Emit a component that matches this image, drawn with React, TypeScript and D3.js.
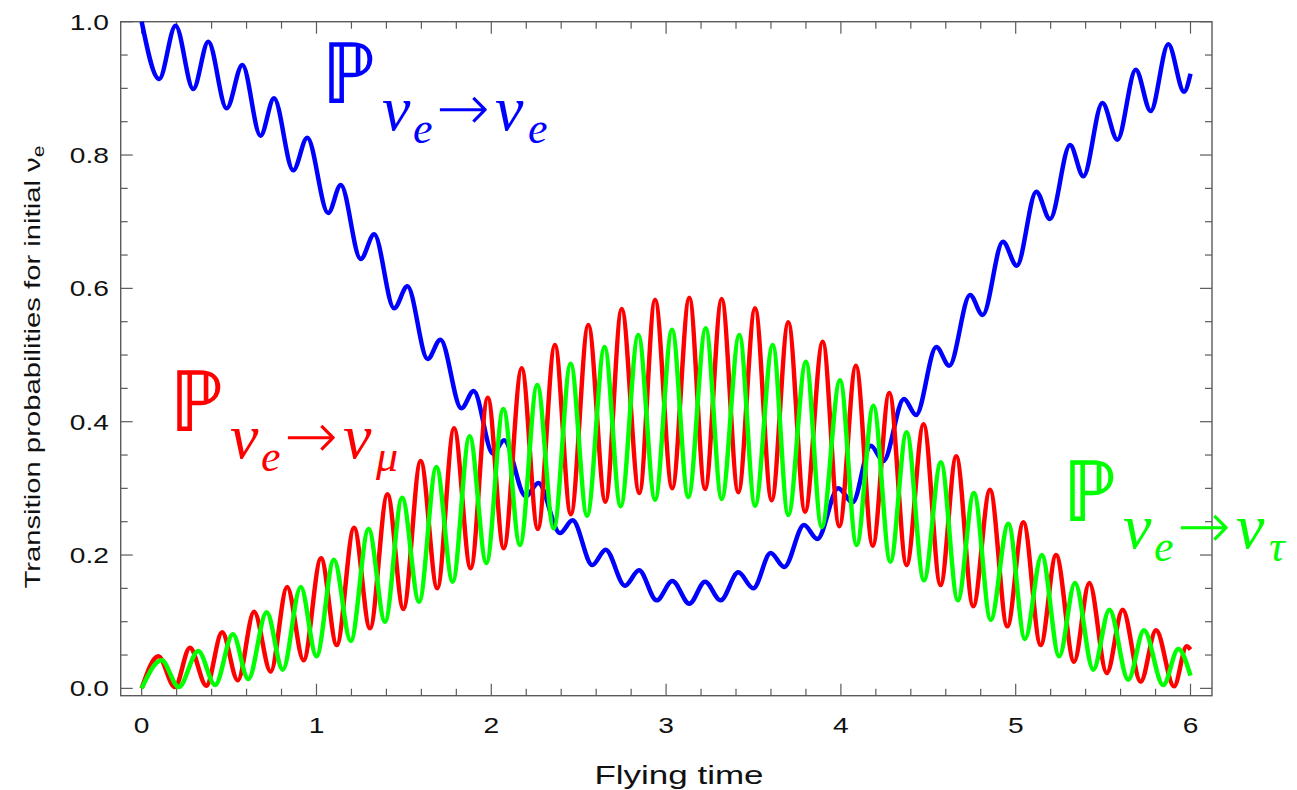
import React from "react";
import * as d3 from "d3";

// Data: local extrema (t, probability)
const pEE: [number, number][] = [
  [0, 1.0], [0.1, 0.914], [0.194, 0.994], [0.295, 0.899], [0.381, 0.97], [0.486, 0.87],
  [0.576, 0.935], [0.68, 0.829], [0.757, 0.885], [0.867, 0.777], [0.947, 0.826], [1.067, 0.713],
  [1.139, 0.755], [1.253, 0.644], [1.33, 0.681], [1.444, 0.57], [1.52, 0.603], [1.636, 0.494],
  [1.709, 0.523], [1.829, 0.42], [1.899, 0.446], [2.01, 0.352], [2.073, 0.372], [2.197, 0.288],
  [2.269, 0.308], [2.393, 0.233], [2.465, 0.252], [2.578, 0.185], [2.654, 0.208], [2.765, 0.154],
  [2.845, 0.177], [2.946, 0.132], [3.036, 0.161], [3.133, 0.127], [3.223, 0.16], [3.312, 0.132],
  [3.413, 0.174], [3.499, 0.15], [3.598, 0.203], [3.676, 0.182], [3.789, 0.245], [3.865, 0.224],
  [3.985, 0.3], [4.067, 0.279], [4.171, 0.364], [4.243, 0.341], [4.361, 0.434], [4.43, 0.41],
  [4.546, 0.512], [4.62, 0.484], [4.739, 0.59], [4.811, 0.56], [4.927, 0.67], [5.006, 0.634],
  [5.118, 0.745], [5.196, 0.704], [5.311, 0.815], [5.387, 0.768], [5.496, 0.878], [5.582, 0.823],
  [5.687, 0.928], [5.772, 0.866], [5.873, 0.966], [5.963, 0.895], [6.0, 0.922],
];

const pEMu: [number, number][] = [
  [0, 0], [0.095, 0.048], [0.19, 0.002], [0.276, 0.061], [0.37, 0.004], [0.46, 0.084],
  [0.55, 0.012], [0.643, 0.115], [0.738, 0.025], [0.832, 0.152], [0.926, 0.042], [1.026, 0.195],
  [1.116, 0.065], [1.215, 0.241], [1.306, 0.09], [1.406, 0.291], [1.497, 0.119], [1.596, 0.341],
  [1.691, 0.15], [1.787, 0.39], [1.882, 0.18], [1.98, 0.436], [2.071, 0.21], [2.174, 0.48],
  [2.266, 0.239], [2.364, 0.515], [2.455, 0.261], [2.555, 0.545], [2.653, 0.28], [2.746, 0.569],
  [2.847, 0.293], [2.937, 0.583], [3.035, 0.3], [3.133, 0.586], [3.223, 0.299], [3.318, 0.584],
  [3.413, 0.294], [3.509, 0.57], [3.604, 0.282], [3.699, 0.549], [3.795, 0.265], [3.896, 0.52],
  [3.991, 0.243], [4.086, 0.484], [4.182, 0.214], [4.277, 0.443], [4.376, 0.185], [4.473, 0.396],
  [4.57, 0.155], [4.66, 0.348], [4.757, 0.123], [4.853, 0.298], [4.952, 0.093], [5.044, 0.249],
  [5.143, 0.065], [5.231, 0.2], [5.334, 0.04], [5.421, 0.158], [5.521, 0.023], [5.612, 0.118],
  [5.715, 0.01], [5.803, 0.087], [5.906, 0.003], [5.978, 0.063], [6.0, 0.058],
];

const pETau: [number, number][] = [
  [0, 0], [0.114, 0.042], [0.212, 0.002], [0.324, 0.056], [0.42, 0.005], [0.522, 0.081],
  [0.61, 0.014], [0.715, 0.114], [0.807, 0.028], [0.91, 0.152], [1.0, 0.048], [1.1, 0.193],
  [1.196, 0.071], [1.298, 0.239], [1.392, 0.1], [1.49, 0.286], [1.587, 0.13], [1.686, 0.332],
  [1.779, 0.16], [1.876, 0.378], [1.972, 0.188], [2.069, 0.419], [2.164, 0.215], [2.263, 0.455],
  [2.357, 0.24], [2.454, 0.487], [2.548, 0.259], [2.648, 0.512], [2.74, 0.273], [2.841, 0.53],
  [2.937, 0.283], [3.034, 0.538], [3.127, 0.287], [3.227, 0.54], [3.318, 0.284], [3.419, 0.53],
  [3.509, 0.274], [3.61, 0.515], [3.699, 0.26], [3.8, 0.49], [3.89, 0.242], [3.995, 0.462],
  [4.09, 0.215], [4.186, 0.424], [4.283, 0.19], [4.376, 0.384], [4.475, 0.162], [4.572, 0.339],
  [4.669, 0.132], [4.761, 0.293], [4.857, 0.103], [4.958, 0.247], [5.053, 0.074], [5.149, 0.2],
  [5.249, 0.048], [5.339, 0.158], [5.444, 0.028], [5.536, 0.118], [5.644, 0.013], [5.734, 0.087],
  [5.844, 0.005], [5.93, 0.059], [6.0, 0.019],
];

const xTickValues = [0, 1, 2, 3, 4, 5, 6];
const xTickLabels = ["0", "1", "2", "3", "4", "5", "6"];
const yTickValues = [0, 0.2, 0.4, 0.6, 0.8, 1.0];
const yTickLabels = ["0.0", "0.2", "0.4", "0.6", "0.8", "1.0"];

const W = 1297;
const H = 790;
const FL = 120.7, FR = 1212, FT = 21.7, FB = 695.7;
const x = d3.scaleLinear().domain([-0.12, 6.123]).range([FL, FR]);
const y = d3.scaleLinear().domain([-0.011, 1.0]).range([FB, FT]);

const line = d3
  .line<[number, number]>()
  .x((d) => x(d[0]))
  .y((d) => y(d[1]))
  .curve(d3.curveMonotoneX);

const AX = "#5b5b5b";
const SX = 1.28; // horizontal glyph stretch of the reference's axis texts

function Label({ X, B, color, sub }: { X: number; B: number; color: string; sub: string }) {
  const serif = "'Liberation Serif', 'DejaVu Serif', serif";
  return (
    <g fill={color}>
      <text x={X - 4} y={B} fontFamily="'DejaVu Sans'" fontWeight={200} fontSize={85}>ℙ</text>
      <text x={X + 57} y={B + 27} fontFamily={serif} fontStyle="italic" fontSize={64}>ν</text>
      <text x={X + 88} y={B + 40} fontFamily={serif} fontStyle="italic" fontSize={44}>e</text>
      <text x={X + 111} y={B + 27} fontFamily="'DejaVu Sans'" fontWeight={200} fontSize={64}>→</text>
      <text x={X + 170} y={B + 27} fontFamily={serif} fontStyle="italic" fontSize={64}>ν</text>
      <text x={X + 203} y={B + 40} fontFamily={serif} fontStyle="italic" fontSize={44}>{sub}</text>
    </g>
  );
}

export default function App() {
  const xMinor = d3.range(0, 6.0001, 0.2);
  const yMinor = d3.range(0, 1.0001, 0.05);
  const sans = "'Liberation Sans', Arial, sans-serif";
  return (
    <svg width={W} height={H} style={{ position: "absolute", left: 0, top: 0 }} xmlns="http://www.w3.org/2000/svg">
      <rect x={0} y={0} width={W} height={H} fill="white" />
      <rect x={FL} y={FT} width={FR - FL} height={FB - FT} fill="none" stroke={AX} strokeWidth={1.4} />
      {xMinor.map((t, i) => {
        const major = xTickValues.some((v) => Math.abs(v - t) < 1e-6);
        const len = major ? 12 : 7;
        return (
          <g key={"xt" + i} stroke={AX} strokeWidth={1.2}>
            <line x1={x(t)} x2={x(t)} y1={FB} y2={FB - len} />
            <line x1={x(t)} x2={x(t)} y1={FT} y2={FT + len} />
          </g>
        );
      })}
      {yMinor.map((v, i) => {
        const major = yTickValues.some((u) => Math.abs(u - v) < 1e-6);
        const len = major ? 12 : 7;
        return (
          <g key={"yt" + i} stroke={AX} strokeWidth={1.2}>
            <line x1={FL} x2={FL + len} y1={y(v)} y2={y(v)} />
            <line x1={FR} x2={FR - len} y1={y(v)} y2={y(v)} />
          </g>
        );
      })}
      {xTickValues.map((t, i) => (
        <text key={"xl" + i} transform={`translate(${x(t)},733) scale(${SX},1)`} textAnchor="middle" fontFamily={sans} fontSize={22} fill="#111">
          {xTickLabels[i]}
        </text>
      ))}
      {yTickValues.map((v, i) => (
        <text key={"yl" + i} transform={`translate(109,${y(v) + 8}) scale(${SX},1)`} textAnchor="end" fontFamily={sans} fontSize={22} fill="#111">
          {yTickLabels[i]}
        </text>
      ))}
      <text transform={`translate(679,784) scale(1.4,1)`} textAnchor="middle" fontFamily={sans} fontSize={25} fill="#111">
        Flying time
      </text>
      <text
        transform={`translate(40, ${367}) rotate(-90) scale(1.33,1)`}
        textAnchor="middle"
        fontFamily={sans}
        fontSize={22}
        fill="#111"
      >
        Transition probabilities for initial ν<tspan fontSize={16} dy={4}>e</tspan>
      </text>
      <path d={line(pEE) || ""} fill="none" stroke="#0000ff" strokeWidth={4.5} strokeLinejoin="round" />
      <path d={line(pEMu) || ""} fill="none" stroke="#ff0000" strokeWidth={4.5} strokeLinejoin="round" />
      <path d={line(pETau) || ""} fill="none" stroke="#00ff00" strokeWidth={4.5} strokeLinejoin="round" />
      <Label X={325} B={103} color="#0000ff" sub="e" />
      <Label X={173} B={431} color="#ff0000" sub="μ" />
      <Label X={1066} B={521} color="#00ff00" sub="τ" />
    </svg>
  );
}
